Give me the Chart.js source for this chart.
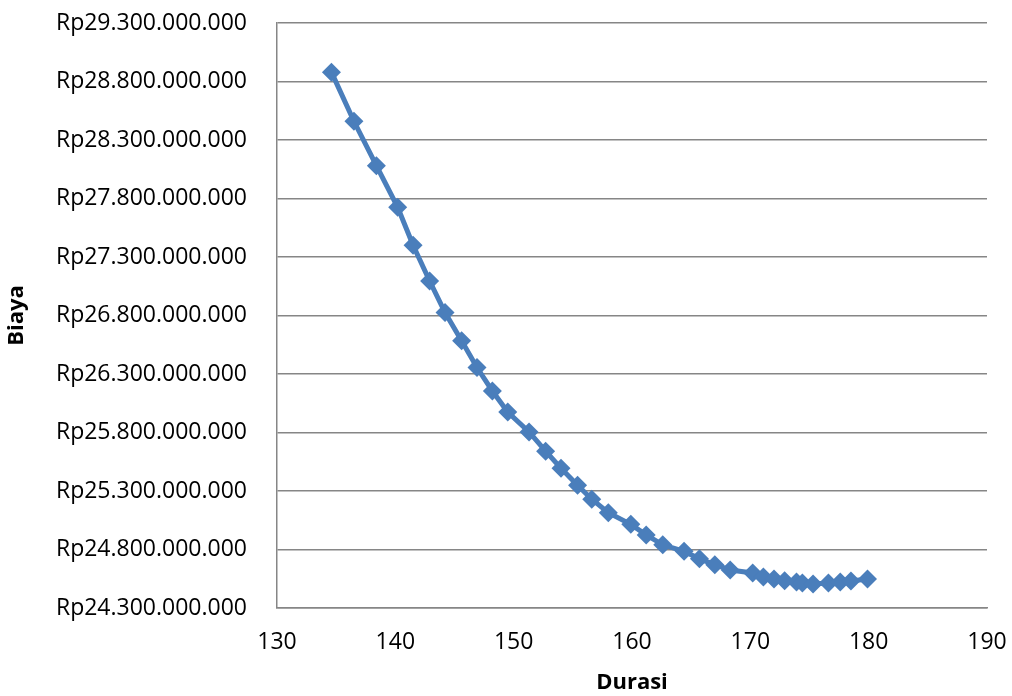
<!DOCTYPE html>
<html>
<head>
<meta charset="utf-8">
<script src="https://cdn.jsdelivr.net/npm/chart.js@4"></script>
<style>
html,body{margin:0;padding:0;background:#fff;}
#wrap{width:1012px;height:696px;position:relative;}
</style>
</head>
<body>
<div id="wrap"><canvas id="c" width="1012" height="696"></canvas></div>
<script>
const durasi = [134.6,136.5,138.4,140.2,141.5,142.9,144.2,145.6,146.9,148.2,149.5,151.3,152.7,154.0,155.4,156.6,158.0,159.9,161.2,162.6,164.4,165.7,167.0,168.3,170.2,171.1,172.0,172.9,173.9,174.4,175.3,176.6,177.6,178.5,179.9];
const biaya = [28880000000,28460000000,28080000000,27725000000,27400000000,27095000000,26825000000,26585000000,26355000000,26155000000,25975000000,25805000000,25640000000,25495000000,25350000000,25230000000,25115000000,25015000000,24925000000,24840000000,24785000000,24720000000,24670000000,24625000000,24600000000,24565000000,24548000000,24532000000,24522000000,24514000000,24505000000,24514000000,24522000000,24531000000,24548000000];
const xTicks = [130,140,150,160,170,180,190];
const yMin = 24300000000, yMax = 29300000000, yStep = 500000000;

const points = durasi.map((d,i)=>({x:d,y:biaya[i]}));
const fontFam = "'Open Sans', Lato, sans-serif";
const blue = '#4A7EBB';

function rp(v){
  return 'Rp' + Math.round(v).toString().replace(/\B(?=(\d{3})+(?!\d))/g,'.');
}
function zeroPad(s){ s.paddingTop=0; s.paddingBottom=0; s.paddingLeft=0; s.paddingRight=0; }

new Chart(document.getElementById('c'),{
  type:'scatter',
  data:{datasets:[{
    data:points,
    showLine:true,
    borderColor:blue,
    backgroundColor:blue,
    borderWidth:5,
    pointStyle:'rectRot',
    pointRadius:9.5,
    pointHoverRadius:9.5,
    pointBorderWidth:0,
    tension:0
  }]},
  options:{
    responsive:false,
    animation:false,
    events:[],
    layout:{autoPadding:false,padding:{top:23,right:25,left:0,bottom:0}},
    plugins:{legend:{display:false},tooltip:{enabled:false}},
    scales:{
      x:{
        type:'linear',min:130,max:190,
        afterBuildTicks:s=>{s.ticks=xTicks.map(v=>({value:v}));},
        afterFit:s=>{s.height=88; zeroPad(s);},
        grid:{display:false,drawTicks:false},
        border:{display:true,color:'#868686',width:1.5},
        ticks:{color:'#000',font:{family:fontFam,size:23},padding:21,maxRotation:0},
        title:{display:true,text:'Durasi',color:'#000',font:{family:fontFam,size:22,weight:'bold'},padding:{top:0,bottom:0}}
      },
      y:{
        type:'linear',min:yMin,max:yMax,
        ticks:{stepSize:yStep,color:'#000',font:{family:fontFam,size:23},padding:30,callback:v=>rp(v)},
        afterFit:s=>{s.width=277; zeroPad(s);},
        grid:{color:'#868686',lineWidth:1.5,drawTicks:false},
        border:{display:true,color:'#868686',width:1.5},
        title:{display:true,text:'Biaya',color:'#000',font:{family:fontFam,size:22,weight:'bold'},padding:{top:4,bottom:0}}
      }
    }
  }
});
</script>
</body>
</html>
